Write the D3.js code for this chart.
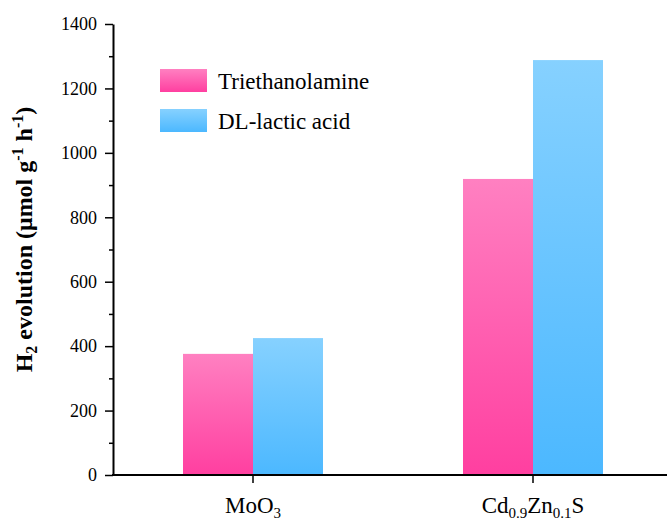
<!DOCTYPE html>
<html lang="en">
<head>
<meta charset="utf-8">
<title>H2 evolution</title>
<script src="https://cdn.jsdelivr.net/npm/d3@7"></script>
<style>
  body { margin: 0; background: #fff; }
  svg { display: block; }
  svg text { font-family: "Liberation Serif", "Times New Roman", serif !important; fill: #000; }
</style>
</head>
<body>
<svg id="chart" width="667" height="521"></svg>
<script>
// data
var categories = ["MoO3", "Cd0.9Zn0.1S"];
var seriesNames = ["Triethanolamine", "DL-lactic acid"];
var triethanolamine = [376, 919];
var lacticAcid = [425, 1288];
var yTicks = [0, 200, 400, 600, 800, 1000, 1200, 1400];
var yMinorTicks = [100, 300, 500, 700, 900, 1100, 1300];

// category labels with subscript parts
var catParts = [
  [["Mo", 0], ["O", 0], ["3", 1]],
  [["Cd", 0], ["0.9", 1], ["Zn", 0], ["0.1", 1], ["S", 0]]
];

var svg = d3.select("#chart");
var W = 667, H = 521;
var plotLeft = 113, plotBottom = 475, plotTop = 24;

var x = d3.scaleLinear().domain([0.5, 2.5]).range([plotLeft, 673]);
var y = d3.scaleLinear().domain([0, 1400]).range([plotBottom, plotTop]);

// gradients
var defs = svg.append("defs");
function grad(id, c1, c2) {
  var g = defs.append("linearGradient").attr("id", id)
    .attr("x1", 0).attr("y1", 0).attr("x2", 0).attr("y2", 1);
  g.append("stop").attr("offset", "0%").attr("stop-color", c1);
  g.append("stop").attr("offset", "100%").attr("stop-color", c2);
}
grad("pinkG", "#ff80c1", "#ff3fa0");
grad("blueG", "#86d1ff", "#4cb8ff");

var bw = 0.25;
var bars = svg.append("g");
bars.selectAll("rect.tea").data(triethanolamine).enter().append("rect")
  .attr("x", (d, i) => x(i + 1 - bw))
  .attr("width", (d, i) => x(i + 1) - x(i + 1 - bw))
  .attr("y", d => y(d))
  .attr("height", d => y(0) - y(d))
  .attr("fill", "url(#pinkG)");
bars.selectAll("rect.dl").data(lacticAcid).enter().append("rect")
  .attr("x", (d, i) => x(i + 1))
  .attr("width", (d, i) => x(i + 1 + bw) - x(i + 1))
  .attr("y", d => y(d))
  .attr("height", d => y(0) - y(d))
  .attr("fill", "url(#blueG)");

// y axis
var yAxis = svg.append("g").attr("transform", "translate(" + plotLeft + ",0)")
  .call(d3.axisLeft(y).tickValues(yTicks).tickFormat(d3.format("d"))
    .tickSize(8).tickPadding(8).tickSizeOuter(0));
svg.append("g").attr("transform", "translate(" + plotLeft + ",0)")
  .call(d3.axisLeft(y).tickValues(yMinorTicks).tickSize(4).tickFormat("").tickSizeOuter(0))
  .select(".domain").remove();
yAxis.selectAll("text").attr("font-size", 18);
svg.selectAll(".tick line").attr("stroke-width", 1.5);
yAxis.select(".domain").attr("stroke-width", 2);

// x axis
svg.append("line").attr("x1", plotLeft - 1).attr("x2", W).attr("y1", plotBottom).attr("y2", plotBottom)
  .attr("stroke", "#000").attr("stroke-width", 2);
svg.selectAll("line.xtick").data(categories).enter().append("line")
  .attr("x1", (d, i) => x(i + 1)).attr("x2", (d, i) => x(i + 1))
  .attr("y1", plotBottom).attr("y2", plotBottom + 8)
  .attr("stroke", "#000").attr("stroke-width", 1.5);

catParts.forEach(function(parts, i) {
  var t = svg.append("text").attr("x", x(i + 1)).attr("y", 513)
    .attr("text-anchor", "middle").attr("font-size", 23);
  var prev = 0;
  parts.forEach(function(p) {
    var dy = (p[1] ? 5 : 0) - prev;
    t.append("tspan").attr("dy", dy).attr("font-size", p[1] ? 15 : 23).text(p[0]);
    prev = p[1] ? 5 : 0;
  });
});

// y label
var yl = svg.append("text")
  .attr("transform", "translate(32," + ((plotTop + plotBottom) / 2 - 10) + ") rotate(-90)")
  .attr("text-anchor", "middle").attr("font-size", 24).attr("font-weight", "bold");
yl.append("tspan").text("H");
yl.append("tspan").attr("dy", 5).attr("font-size", 16).text("2");
yl.append("tspan").attr("dy", -5).text(" evolution (\u03bcmol g");
yl.append("tspan").attr("dy", -9).attr("font-size", 16).text("-1");
yl.append("tspan").attr("dy", 9).text(" h");
yl.append("tspan").attr("dy", -9).attr("font-size", 16).text("-1");
yl.append("tspan").attr("dy", 9).text(")");

// legend
var legend = svg.append("g");
var legFills = ["url(#pinkG)", "url(#blueG)"];
seriesNames.forEach(function(name, i) {
  var gy = 69 + i * 40;
  legend.append("rect").attr("x", 160).attr("y", gy).attr("width", 47).attr("height", 23)
    .attr("fill", legFills[i]);
  legend.append("text").attr("x", 218).attr("y", gy + 20).attr("font-size", 23).text(name);
});
</script>
</body>
</html>
